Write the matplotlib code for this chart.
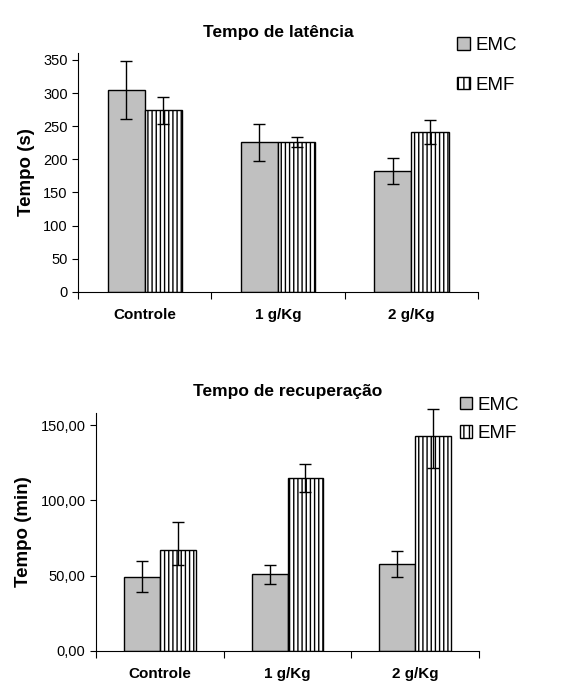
import matplotlib.pyplot as plt
import numpy as np
from matplotlib.patches import Patch

plt.rcParams['font.family'] = ['Liberation Sans', 'DejaVu Sans']

categorias = ["Controle", "1 g/Kg", "2 g/Kg"]

# Tempo de latencia (s)
lat_emc = [305, 226, 182]
lat_emc_err = [44, 28, 20]
lat_emf = [274, 226, 241]
lat_emf_err = [20, 8, 18]

# Tempo de recuperacao (min)
rec_emc = [49.3, 50.7, 57.6]
rec_emc_err = [10.3, 6.6, 8.7]
rec_emf = [66.7, 114.9, 142.7]
rec_emf_err_inf = [9.4, 9.3, 21.0]
rec_emf_err_sup = [18.9, 8.9, 18.0]

cinza = "#c0c0c0"
larg = 0.28


def painel(ax, emc, emc_err, emf, emf_err, ymax, yticks, fmt, titulo, ylabel, esp):
    x = np.arange(len(categorias)) + 0.5
    ax.bar(x - larg / 2, emc, larg, color=cinza, edgecolor="black", linewidth=1.0)
    ax.bar(x + larg / 2, emf, larg, color="white", edgecolor="black",
           linewidth=1.0, hatch="||||")
    for xs, v, e in [(x - larg / 2, emc, emc_err), (x + larg / 2, emf, emf_err)]:
        eb = ax.errorbar(xs, v, yerr=e, fmt="none", ecolor="black",
                         elinewidth=1, capsize=4, capthick=1)
        for art in eb.lines[1] + eb.lines[2]:
            art.set_clip_on(False)
    ax.set_xlim(0, 3)
    ax.set_ylim(0, ymax)
    ax.set_xticks([0, 1, 2, 3])
    ax.set_xticklabels([])
    ax.set_xticks(x, minor=True)
    ax.set_xticklabels(categorias, minor=True, fontsize=11, fontweight="bold")
    ax.tick_params(axis="x", which="minor", length=0, pad=12)
    ax.tick_params(axis="x", which="major", length=5, direction="out")
    ax.set_yticks(yticks)
    ax.set_yticklabels([fmt(v) for v in yticks], fontsize=10.5)
    ax.tick_params(axis="y", length=4, direction="out")
    ax.spines["top"].set_visible(False)
    ax.spines["right"].set_visible(False)
    ax.set_title(titulo, fontsize=12.5, fontweight="bold", pad=12)
    ax.set_ylabel(ylabel, fontsize=13.5, fontweight="bold", labelpad=6)
    handles = [Patch(facecolor=cinza, edgecolor="black", label="EMC"),
               Patch(facecolor="white", edgecolor="black", hatch="|||", label="EMF")]
    ax.legend(handles=handles, loc="upper left", bbox_to_anchor=(0.93, 1.1),
              frameon=False, fontsize=13.5, handlelength=0.65, handleheight=0.65,
              handletextpad=0.3, labelspacing=esp, borderaxespad=0)


fig = plt.figure(figsize=(5.75, 6.93), dpi=100)
ax1 = fig.add_axes([0.136, 0.579, 0.695, 0.344])
ax2 = fig.add_axes([0.167, 0.061, 0.666, 0.343])

painel(ax1, lat_emc, lat_emc_err, lat_emf, lat_emf_err, 360,
       [0, 50, 100, 150, 200, 250, 300, 350], lambda v: f"{v:d}",
       "Tempo de latência", "Tempo (s)", 1.2)
painel(ax2, rec_emc, rec_emc_err, rec_emf, [rec_emf_err_inf, rec_emf_err_sup], 158,
       [0, 50, 100, 150], lambda v: f"{v:.2f}".replace(".", ","),
       "Tempo de recuperação", "Tempo (min)", 0.6)

fig.savefig("out.png", dpi=100)
